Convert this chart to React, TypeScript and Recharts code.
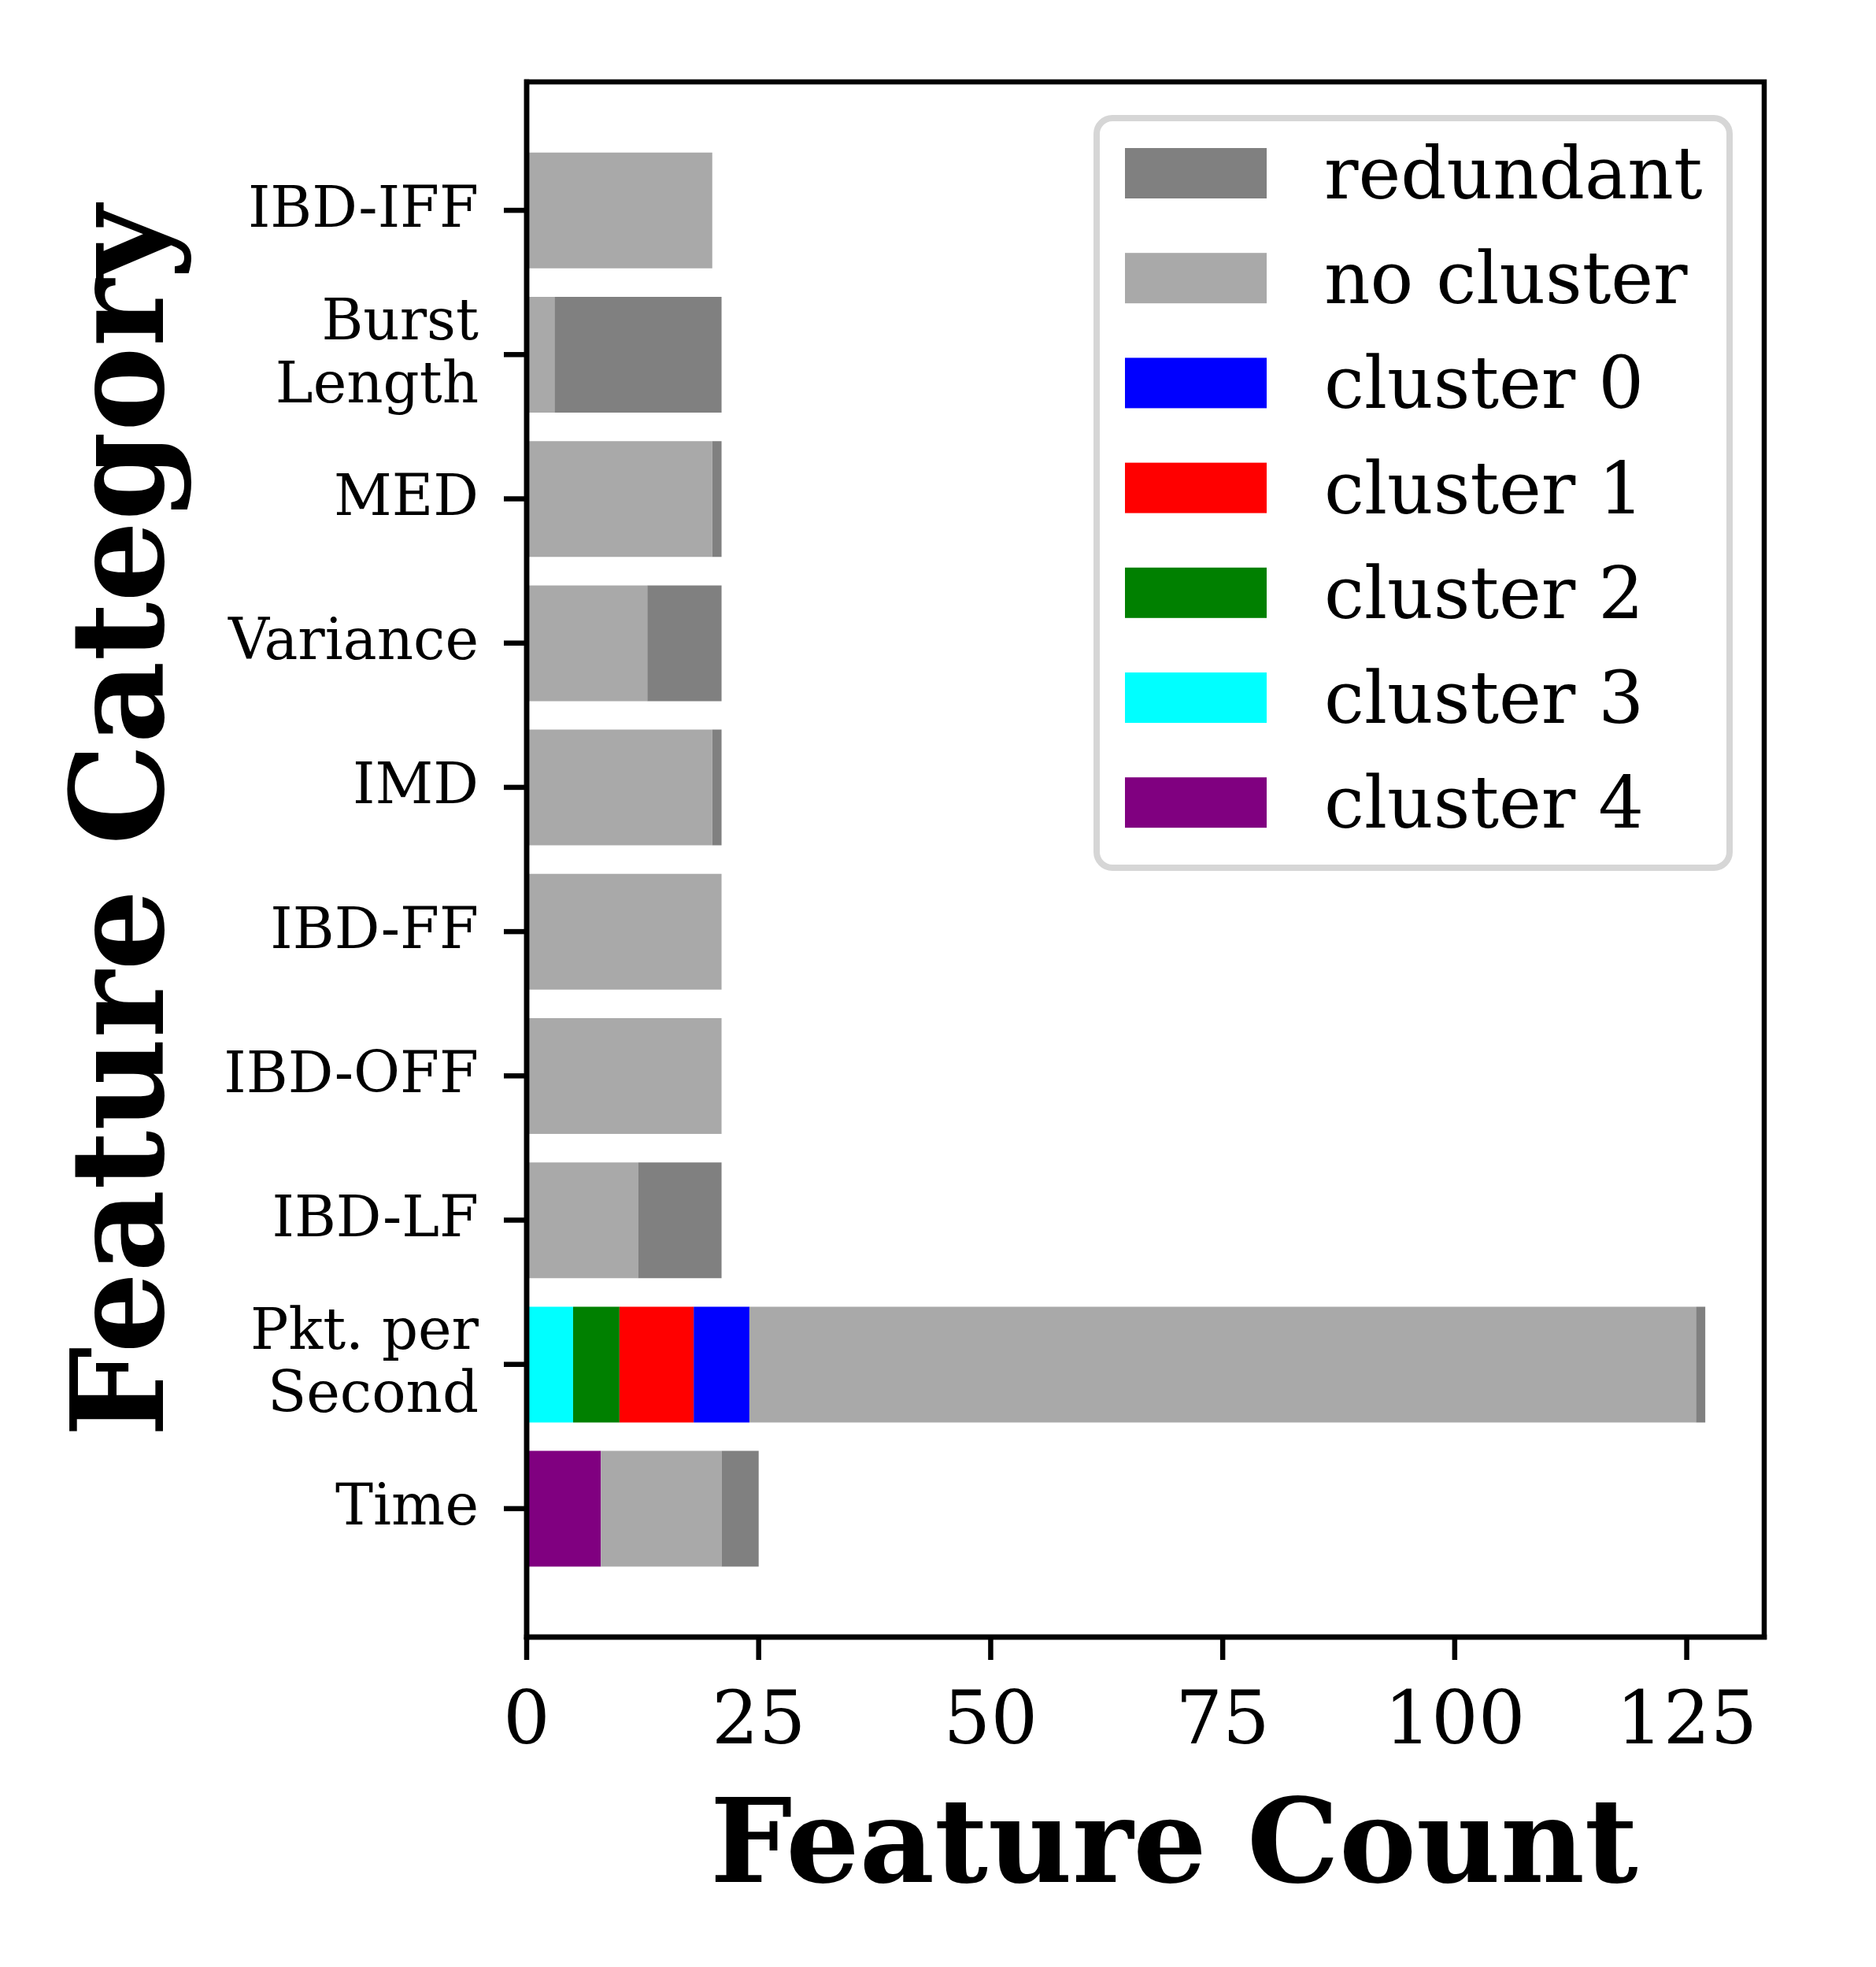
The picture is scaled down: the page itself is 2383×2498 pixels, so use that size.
import { BarChart, Bar, XAxis, YAxis, Legend } from 'recharts';

const categories = [
  'IBD-IFF',
  'Burst\nLength',
  'MED',
  'Variance',
  'IMD',
  'IBD-FF',
  'IBD-OFF',
  'IBD-LF',
  'Pkt. per\nSecond',
  'Time',
];

// stacked left to right in this order
const cluster4 = [0, 0, 0, 0, 0, 0, 0, 0, 0, 8];
const cluster3 = [0, 0, 0, 0, 0, 0, 0, 0, 5, 0];
const cluster2 = [0, 0, 0, 0, 0, 0, 0, 0, 5, 0];
const cluster1 = [0, 0, 0, 0, 0, 0, 0, 0, 8, 0];
const cluster0 = [0, 0, 0, 0, 0, 0, 0, 0, 6, 0];
const noCluster = [20, 3, 20, 13, 20, 21, 21, 12, 102, 13];
const redundant = [0, 18, 1, 8, 1, 0, 0, 9, 1, 4];

const xTicks = [0, 25, 50, 75, 100, 125];

const series = [
  { key: 'cluster4', label: 'cluster 4', color: '#800080', values: cluster4 },
  { key: 'cluster3', label: 'cluster 3', color: '#00ffff', values: cluster3 },
  { key: 'cluster2', label: 'cluster 2', color: '#008000', values: cluster2 },
  { key: 'cluster1', label: 'cluster 1', color: '#ff0000', values: cluster1 },
  { key: 'cluster0', label: 'cluster 0', color: '#0000ff', values: cluster0 },
  { key: 'noCluster', label: 'no cluster', color: '#a9a9a9', values: noCluster },
  { key: 'redundant', label: 'redundant', color: '#808080', values: redundant },
];

const data = categories.map((name, i) => {
  const row: Record<string, string | number> = { name };
  series.forEach((s) => {
    row[s.key] = s.values[i];
  });
  return row;
});

const FONT = '"DejaVu Serif", serif';
const LW = 6.5;
const SPINE = { stroke: '#000', strokeWidth: LW, strokeLinecap: 'square' as const };
const TICK_LINE = { stroke: '#000', strokeWidth: LW };

// plot frame (matches chart margins / axis sizes below)
const PLOT = { left: 669, top: 104, right: 2241, bottom: 2079 };

const CAP = 53;
const LINE = 80;

const CategoryTick = (props: any) => {
  const { x, y, payload } = props;
  const lines = String(payload.value).split('\n');
  const first = y - 6 - (CAP + (lines.length - 1) * LINE) / 2 + CAP;
  return (
    <text x={x} y={first} textAnchor="end" fontFamily={FONT} fontSize={72} fill="#000">
      {lines.map((l, i) => (
        <tspan key={i} x={x} dy={i === 0 ? 0 : LINE}>
          {l}
        </tspan>
      ))}
    </text>
  );
};

const CountTick = (props: any) => {
  const { x, y, payload } = props;
  return (
    <text x={x} y={y + 106} textAnchor="middle" fontFamily={FONT} fontSize={94} fill="#000">
      {payload.value}
    </text>
  );
};

const legendOrder = [...series].reverse();

const LegendBox = () => (
  <svg width={812} height={960} style={{ display: 'block' }}>
    <rect x={4} y={4} width={804} height={952} rx={20} ry={20} fill="#fff" stroke="#d6d6d6" strokeWidth={8} />
    {legendOrder.map((s, i) => (
      <g key={s.key}>
        <rect x={40} y={42 + i * 133.2} width={180} height={64} fill={s.color} />
        <text x={293} y={106 + i * 133.2} fontFamily={FONT} fontSize={91} fill="#000">
          {s.label}
        </text>
      </g>
    ))}
  </svg>
);

export default function App() {
  return (
    <div style={{ position: 'absolute', left: 0, top: 0, width: 2383, height: 2498, background: '#fff' }}>
      <BarChart
        layout="vertical"
        width={2383}
        height={2498}
        data={data}
        margin={{ top: PLOT.top, right: 2383 - PLOT.right, bottom: 0, left: 0 }}
        barCategoryGap="10%"
      >
        <XAxis
          type="number"
          domain={[0, 133.35]}
          ticks={xTicks}
          allowDataOverflow
          height={2498 - PLOT.bottom}
          stroke="#000"
          strokeWidth={LW}
          tickSize={29}
          tickMargin={0}
          tickLine={TICK_LINE}
          axisLine={SPINE}
          tick={<CountTick />}
        />
        <YAxis
          type="category"
          dataKey="name"
          width={PLOT.left}
          padding={{ top: 71.5, bottom: 71.5 }}
          stroke="#000"
          strokeWidth={LW}
          tickSize={29}
          tickMargin={32}
          tickLine={TICK_LINE}
          axisLine={SPINE}
          tick={<CategoryTick />}
          interval={0}
        />
        {series.map((s) => (
          <Bar key={s.key} dataKey={s.key} stackId="a" fill={s.color} isAnimationActive={false} />
        ))}
        <Legend
          layout="horizontal"
          verticalAlign="middle"
          align="center"
          content={() => <LegendBox />}
          wrapperStyle={{ position: 'absolute', left: 1389, top: 146, width: 812, height: 960 }}
        />
      </BarChart>
      <svg
        width={2383}
        height={2498}
        style={{ position: 'absolute', left: 0, top: 0, pointerEvents: 'none' }}
      >
        <rect
          x={PLOT.left}
          y={PLOT.top}
          width={PLOT.right - PLOT.left}
          height={PLOT.bottom - PLOT.top}
          fill="none"
          stroke="#000"
          strokeWidth={LW}
        />
        <text x={902} y={2390} fontFamily={FONT} fontWeight="bold" fontSize={147} fill="#000">
          Feature Count
        </text>
        <text
          transform="translate(207, 1825) rotate(-90)"
          fontFamily={FONT}
          fontWeight="bold"
          fontSize={162}
          fill="#000"
        >
          Feature Category
        </text>
      </svg>
    </div>
  );
}
